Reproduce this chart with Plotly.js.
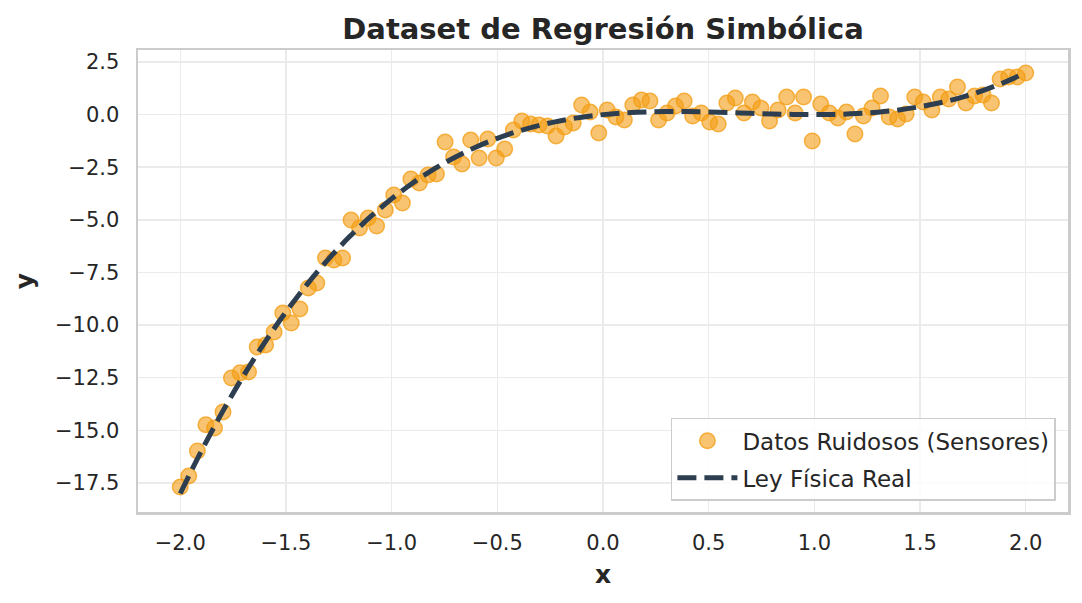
<!DOCTYPE html>
<html>
<head>
<meta charset="utf-8">
<script src="https://cdn.plot.ly/plotly-3.0.1.min.js"></script>
<style>html,body{margin:0;padding:0;background:#fff;}#chart{width:1082px;height:603px;}</style>
</head>
<body>
<div id="chart"></div>
<script>
// Noisy sensor data (scatter)
const dataX = [-2.000,-1.960,-1.919,-1.879,-1.838,-1.798,-1.758,-1.717,-1.677,-1.636,
  -1.596,-1.556,-1.515,-1.475,-1.434,-1.394,-1.354,-1.313,-1.273,-1.232,
  -1.192,-1.152,-1.111,-1.071,-1.030,-0.990,-0.949,-0.909,-0.869,-0.828,
  -0.788,-0.747,-0.707,-0.667,-0.626,-0.586,-0.545,-0.505,-0.465,-0.424,
  -0.384,-0.343,-0.303,-0.263,-0.222,-0.182,-0.141,-0.101,-0.061,-0.020,
  0.020,0.061,0.101,0.141,0.182,0.222,0.263,0.303,0.343,0.384,
  0.424,0.465,0.505,0.545,0.586,0.626,0.667,0.707,0.747,0.788,
  0.828,0.869,0.909,0.949,0.990,1.030,1.071,1.111,1.152,1.192,
  1.232,1.273,1.313,1.354,1.394,1.434,1.475,1.515,1.556,1.596,
  1.636,1.677,1.717,1.758,1.798,1.838,1.879,1.919,1.960,2.000];
const dataY = [-17.69,-17.17,-15.98,-14.74,-14.89,-14.13,-12.51,-12.27,-12.23,-11.04,
  -10.94,-10.33,-9.42,-9.90,-9.23,-8.24,-8.00,-6.81,-6.91,-6.81,
  -5.01,-5.39,-4.91,-5.29,-4.53,-3.82,-4.20,-3.06,-3.25,-2.87,
  -2.82,-1.30,-2.01,-2.35,-1.21,-2.06,-1.16,-2.06,-1.63,-0.73,
  -0.30,-0.45,-0.49,-0.54,-1.02,-0.59,-0.40,0.46,0.12,-0.87,
  0.22,-0.11,-0.26,0.46,0.69,0.65,-0.26,0.08,0.41,0.65,
  -0.07,0.08,-0.35,-0.45,0.55,0.79,0.08,0.60,0.31,-0.30,
  0.22,0.84,0.08,0.84,-1.25,0.50,0.08,-0.16,0.12,-0.92,
  -0.07,0.31,0.88,-0.11,-0.21,0.03,0.84,0.60,0.22,0.84,
  0.74,1.31,0.55,0.88,0.93,0.55,1.69,1.79,1.79,1.98];

// True physical law (dashed curve)
const lawX = [-2.0,-1.9,-1.8,-1.7,-1.6,-1.5,-1.4,-1.3,-1.2,-1.1,-1.0,-0.9,-0.8,-0.7,-0.6,-0.5,-0.4,-0.3,-0.2,-0.1,
  0.0,0.1,0.2,0.3,0.4,0.5,0.6,0.7,0.8,0.9,1.0,1.1,1.2,1.3,1.4,1.5,1.6,1.7,1.8,1.9,2.0];
const lawY = [-18.0,-15.979,-14.112,-12.393,-10.816,-9.375,-8.064,-6.877,-5.808,-4.851,-4.0,-3.249,-2.592,-2.023,-1.536,-1.125,-0.784,-0.507,-0.288,-0.121,
  0.0,0.081,0.128,0.147,0.144,0.125,0.096,0.063,0.032,0.009,0.0,0.011,0.048,0.117,0.224,0.375,0.576,0.833,1.152,1.539,2.0];

const xTicks = [-2.0,-1.5,-1.0,-0.5,0.0,0.5,1.0,1.5,2.0];
const yTicks = [-17.5,-15.0,-12.5,-10.0,-7.5,-5.0,-2.5,0.0,2.5];

const FONT = "DejaVu Sans, Liberation Sans, sans-serif";
const TXT = "#262626";

const traces = [
  {
    x: dataX, y: dataY, type: "scatter", mode: "markers",
    name: "Datos Ruidosos (Sensores)", legendgroup: "a",
    marker: {size: 15.5, color: "rgba(243,156,18,0.6)", line: {color: "rgba(243,156,18,0.75)", width: 1.5}}
  },
  {
    x: lawX, y: lawY, type: "scatter", mode: "lines",
    name: "Ley Física Real", legendgroup: "b",
    line: {color: "#2c3e50", width: 5, dash: "19px,8px", shape: "spline"}
  }
];

const axisCommon = {
  showline: true, mirror: true, linecolor: "#cccccc", linewidth: 2.5,
  showgrid: true, gridcolor: "#ebebeb", gridwidth: 1.5,
  zeroline: false, ticks: "", automargin: false,
  tickfont: {family: FONT, size: 21, color: TXT},
  tickformat: ".1f"
};

const layout = {
  width: 1082, height: 603,
  paper_bgcolor: "#ffffff", plot_bgcolor: "#ffffff",
  margin: {l: 138, r: 14, t: 50, b: 91, pad: 0},
  font: {family: FONT, color: TXT},
  title: {
    text: "Dataset de Regresión Simbólica",
    font: {family: FONT, size: 29, weight: "bold", color: TXT},
    x: 0.5573, xanchor: "center", xref: "container",
    y: 0.952, yanchor: "middle", yref: "container"
  },
  xaxis: Object.assign({}, axisCommon, {
    range: [-2.2, 2.2],
    tickvals: xTicks,
    ticklabelstandoff: 10,
    title: {text: "x", font: {family: FONT, size: 25, weight: "bold", color: TXT}, standoff: 12}
  }),
  yaxis: Object.assign({}, axisCommon, {
    range: [-18.88, 3.07],
    tickvals: yTicks,
    ticklabelstandoff: 12,
    title: {text: "y", font: {family: FONT, size: 25, weight: "bold", color: TXT}, standoff: 14}
  }),
  legend: {
    x: 0.987, xanchor: "right", y: 0.024, yanchor: "bottom",
    bgcolor: "rgba(255,255,255,0.85)", bordercolor: "#cccccc", borderwidth: 1.5,
    font: {family: FONT, size: 23, color: TXT},
    itemwidth: 60,
    tracegroupgap: 4
  },
  showlegend: true
};

Plotly.newPlot("chart", traces, layout, {displayModeBar: false, staticPlot: true});
</script>
</body>
</html>
